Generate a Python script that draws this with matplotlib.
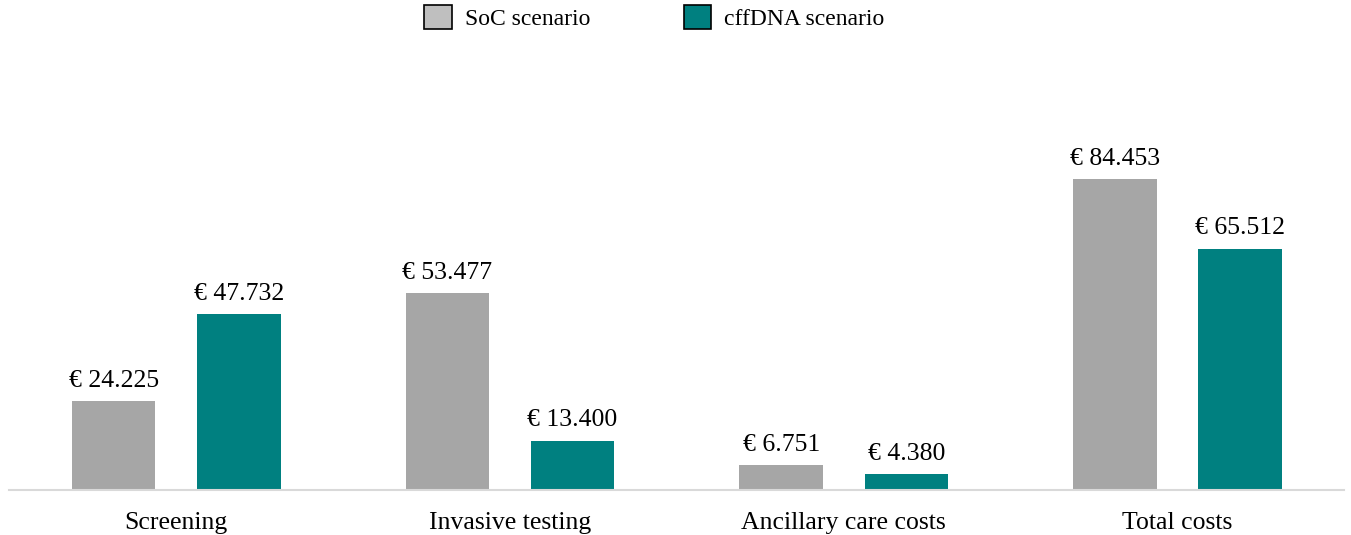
import numpy as np
import matplotlib.pyplot as plt
from matplotlib.patches import Patch

categories = ['Screening', 'Invasive testing', 'Ancillary care costs', 'Total costs']
soc_values = [24225, 53477, 6751, 84453]
cff_values = [47732, 13400, 4380, 65512]
series_names = ['SoC scenario', 'cffDNA scenario']

plt.rcParams['font.family'] = ['Liberation Serif', 'DejaVu Serif']

gray = '#A6A6A6'
teal = '#008080'

fig = plt.figure(figsize=(13.51, 5.35), dpi=100)
ax = fig.add_axes([0.007, 0.084, 0.988, 0.62])

x = np.arange(len(categories))
w = 0.25
off = 0.1875
ax.bar(x - off, soc_values, w, color=gray)
ax.bar(x + off, cff_values, w, color=teal)

def fmt(v):
    return '€ ' + '{:,}'.format(v).replace(',', '.')

for xi, v in zip(x - off, soc_values):
    ax.text(xi, v + 2500, fmt(v), ha='center', va='bottom', fontsize=18.5)
for xi, v in zip(x + off, cff_values):
    ax.text(xi, v + 2500, fmt(v), ha='center', va='bottom', fontsize=18.5)

ax.set_xlim(-0.5, len(categories) - 0.5)
ax.set_ylim(0, 90000)
ax.set_xticks(x)
ax.set_xticklabels(categories, fontsize=18.5)
ax.tick_params(axis='x', length=0, pad=16)
ax.set_yticks([])
for s in ['top', 'right', 'left']:
    ax.spines[s].set_visible(False)
ax.spines['bottom'].set_color('#D9D9D9')
ax.spines['bottom'].set_linewidth(1.5)

handles = [Patch(facecolor='#BFBFBF', edgecolor='black', linewidth=1.2),
           Patch(facecolor=teal, edgecolor='black', linewidth=1.2)]
fig.legend(handles, series_names, loc='upper center', bbox_to_anchor=(0.4845, 1.03),
           ncol=2, frameon=False, fontsize=17, handlelength=1.15, handleheight=1.15,
           columnspacing=4.0, handletextpad=0.55)

fig.savefig('out.png', dpi=100)
